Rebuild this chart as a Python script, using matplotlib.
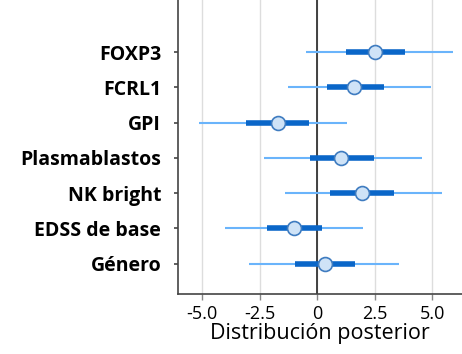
import matplotlib.pyplot as plt
import numpy as np

labels = ['FOXP3', 'FCRL1', 'GPI', 'Plasmablastos', 'NK bright', 'EDSS de base', 'Género']
median = [2.54, 1.61, -1.71, 1.04, 1.94, -1.00, 0.35]
hdi_low = [-0.49, -1.27, -5.13, -2.30, -1.39, -3.98, -2.94]
hdi_high = [5.93, 4.96, 1.32, 4.58, 5.45, 2.00, 3.58]
iqr_low = [1.25, 0.42, -3.07, -0.32, 0.58, -2.19, -0.98]
iqr_high = [3.84, 2.91, -0.37, 2.47, 3.33, 0.22, 1.65]

plt.rcParams['font.family'] = ['Open Sans', 'DejaVu Sans']

fig = plt.figure(figsize=(4.62, 3.54), dpi=100)
ax = fig.add_axes([0.385, 0.1695, 0.615, 0.8305])

ypos = np.arange(len(labels))[::-1]

ax.axvline(0, color='#333333', lw=1.3, zorder=2)
ax.hlines(ypos, hdi_low, hdi_high, color='#6ab4fb', lw=1.5, zorder=3)
ax.hlines(ypos, iqr_low, iqr_high, color='#0a66c8', lw=4, zorder=4)
ax.plot(median, ypos, 'o', ms=10, mfc='#cfe3f7', mec='#3f7cc0', mew=1.2, zorder=5)

ax.set_xlim(-6.05, 6.3)
ax.set_ylim(-0.86, 7.48)
ax.set_xticks([-5, -2.5, 0, 2.5, 5])
ax.set_xticklabels(['-5.0', '-2.5', '0', '2.5', '5.0'], fontsize=13)
ax.set_yticks(ypos)
ax.set_yticklabels(labels, fontsize=14, fontweight='bold')
ax.set_xlabel('Distribución posterior', fontsize=15.5, labelpad=0)
ax.grid(axis='x', color='#dddddd', lw=1, zorder=0)
ax.set_axisbelow(True)

for s in ['top', 'right']:
    ax.spines[s].set_visible(False)
for s in ['left', 'bottom']:
    ax.spines[s].set_color('#444444')
    ax.spines[s].set_linewidth(1.2)
ax.tick_params(axis='y', length=3, width=1.2, color='#444444', pad=9)
ax.tick_params(axis='x', length=4, width=1, color='#888888', pad=4)

plt.savefig('out.png', dpi=100)
